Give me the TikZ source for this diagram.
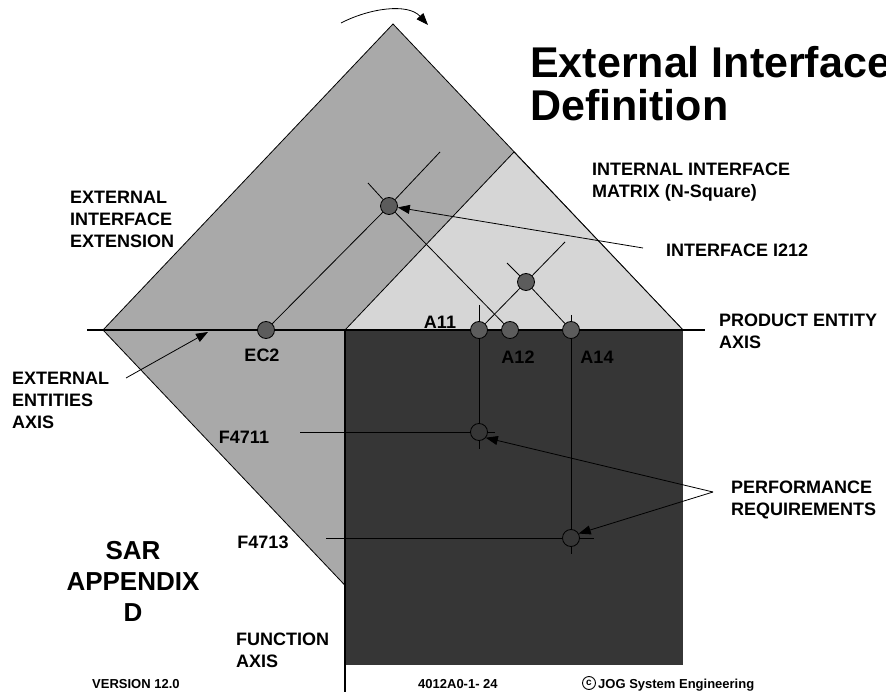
\documentclass[tikz,border=0pt]{standalone}
\usepackage{fontspec}
\setmainfont{Liberation Sans}
\usetikzlibrary{arrows.meta}

\definecolor{extgray}{HTML}{A9A9A9}
\definecolor{nsqgray}{HTML}{D6D6D6}
\definecolor{funcdark}{HTML}{363636}
\definecolor{nodegray}{HTML}{5C5C5C}

\tikzset{
  edge/.style={line width=0.8pt},
  axisline/.style={line width=2.8pt},
  arr/.style={line width=0.8pt, -{Triangle[length=12pt,width=9pt]}},
  iface/.style={circle, draw, line width=0.8pt, fill=nodegray, minimum size=17pt, inner sep=0pt},
  req/.style={circle, draw, line width=0.8pt, fill=funcdark, minimum size=17pt, inner sep=0pt},
  lbl/.style={font=\fontsize{18}{22}\selectfont\bfseries, inner sep=0pt, align=left},
  tag/.style={font=\fontsize{18}{22}\selectfont\bfseries, inner sep=0pt},
  foot/.style={font=\fontsize{13}{15}\selectfont\bfseries, inner sep=0pt},
}

\begin{document}
\begin{tikzpicture}[x=1pt, y=-1pt]
\useasboundingbox (0,0) rectangle (886,692);

% corners of the interface diamond and of the N-square triangle
\coordinate (dTop) at (393,24);
\coordinate (dRight) at (683,330);
\coordinate (dBottom) at (393,636);
\coordinate (dLeft) at (103,330);
\coordinate (nTop) at (514,152);
\coordinate (nLeft) at (345,330);

% external interface extension (whole diamond)
\filldraw[fill=extgray, edge] (dTop) -- (dRight) -- (dBottom) -- (dLeft) -- cycle;
% internal interface matrix (N-square)
\filldraw[fill=nsqgray, edge] (nLeft) -- (nTop) -- (dRight) -- cycle;
% function block
\fill[funcdark] (345,330) rectangle (683,665);

% axes
\coordinate (axL) at (87,330);
\coordinate (axR) at (705,330);
\draw[axisline] (axL) -- (axR);
\coordinate (fnTop) at (345,330);
\coordinate (fnBot) at (345,692);
\draw[line width=2.4pt] (fnTop) -- (fnBot);

% interface and entity nodes
\node[iface] (ec2) at (266,330) {};
\node[iface] (i212) at (389,206) {};
\node[iface] (i2) at (526,282) {};
\node[iface] (a11) at (479,330) {};
\node[iface] (a12) at (510,330) {};
\node[iface] (a14) at (571,330) {};
\node[req] (f4711) at (479,432) {};
\node[req] (f4713) at (571,538) {};

% free ends of the grid lines
\coordinate (ecEnd) at (440,152);
\coordinate (a12Start) at (368,183);
\coordinate (i2NE) at (565,242);
\coordinate (i2NW) at (507,263);
\coordinate (a11Tick) at (479,305);
\coordinate (a14Tick) at (571,315);
\coordinate (f4711In) at (300,432);
\coordinate (f4711Out) at (495,432);
\coordinate (f4711Tail) at (479,449);
\coordinate (f4713In) at (326,538);
\coordinate (f4713Out) at (594,538);
\coordinate (f4713Tail) at (571,554);

\draw[edge] (ec2) -- (i212) (i212) -- (ecEnd);
\draw[edge] (a12Start) -- (i212) (i212) -- (a12);
\draw[edge] (a11) -- (i2) (i2) -- (i2NE);
\draw[edge] (i2NW) -- (i2) (i2) -- (a14);
\draw[edge] (a11Tick) -- (a11) (a11) -- (f4711) (f4711) -- (f4711Tail);
\draw[edge] (f4711In) -- (f4711) (f4711) -- (f4711Out);
\draw[edge] (a14Tick) -- (a14) (a14) -- (f4713) (f4713) -- (f4713Tail);
\draw[edge] (f4713In) -- (f4713) (f4713) -- (f4713Out);

% rotation arrow over the diamond
\coordinate (rotA) at (341,23);
\coordinate (rotB) at (428,25);
\draw[arr] (rotA) .. controls (370,8) and (408,3) .. (rotB);

% pointer arrows
\coordinate (i212From) at (643,248);
\draw[arr] (i212From) -- (i212);
\coordinate (perfFrom) at (713,492);
\draw[arr] (perfFrom) -- (f4711.-40);
\draw[arr] (perfFrom) -- (f4713.30);
\coordinate (eeaFrom) at (126,378);
\coordinate (eeaTo) at (208,332);
\draw[arr] (eeaFrom) -- (eeaTo);

% title
\node[font=\fontsize{43}{43}\selectfont\bfseries, inner sep=0pt, anchor=base west] (title1) at (530,78) {External Interface};
\node[font=\fontsize{43}{43}\selectfont\bfseries, inner sep=0pt, anchor=base west] (title2) at (530,121) {Definition};

% labels
\node[lbl, anchor=north west] (lExt) at (70,190.5) {EXTERNAL\\INTERFACE\\EXTENSION};
\node[lbl, anchor=north west] (lNsq) at (592,162.5) {INTERNAL INTERFACE\\MATRIX (N-Square)};
\node[lbl, anchor=north west] (lI212) at (666,243.5) {INTERFACE I212};
\node[lbl, anchor=north west] (lProd) at (719,313.5) {PRODUCT ENTITY\\AXIS};
\node[lbl, anchor=north west] (lEea) at (12,371.5) {EXTERNAL\\ENTITIES\\AXIS};
\node[lbl, anchor=north west] (lPerf) at (731,480.5) {PERFORMANCE\\REQUIREMENTS};
\node[lbl, anchor=north west] (lFunc) at (236,632.5) {FUNCTION\\AXIS};

\node[tag] (tA11) at (440,322) {A11};
\node[tag] (tA12) at (518,357) {A12};
\node[tag] (tA14) at (597,357) {A14};
\node[tag] (tEC2) at (262,355) {EC2};
\node[tag] (tF4711) at (244,437) {F4711};
\node[tag] (tF4713) at (263,542) {F4713};

\node[font=\fontsize{26}{31}\selectfont\bfseries, inner sep=0pt, align=center, anchor=north] (lSar) at (133,540.7) {SAR\\APPENDIX\\D};

% footer
\node[foot, anchor=base west] (fVer) at (92,688) {VERSION 12.0};
\node[foot, anchor=base west] (fNum) at (418,688) {4012A0-1- 24};
\node[circle, draw, line width=0.9pt, inner sep=0.4pt, minimum size=13pt, font=\fontsize{10}{10}\selectfont\bfseries] (fCopy) at (589,683) {c};
\node[foot, anchor=base west] (fJog) at (598,688) {JOG System Engineering};
\end{tikzpicture}
\end{document}
